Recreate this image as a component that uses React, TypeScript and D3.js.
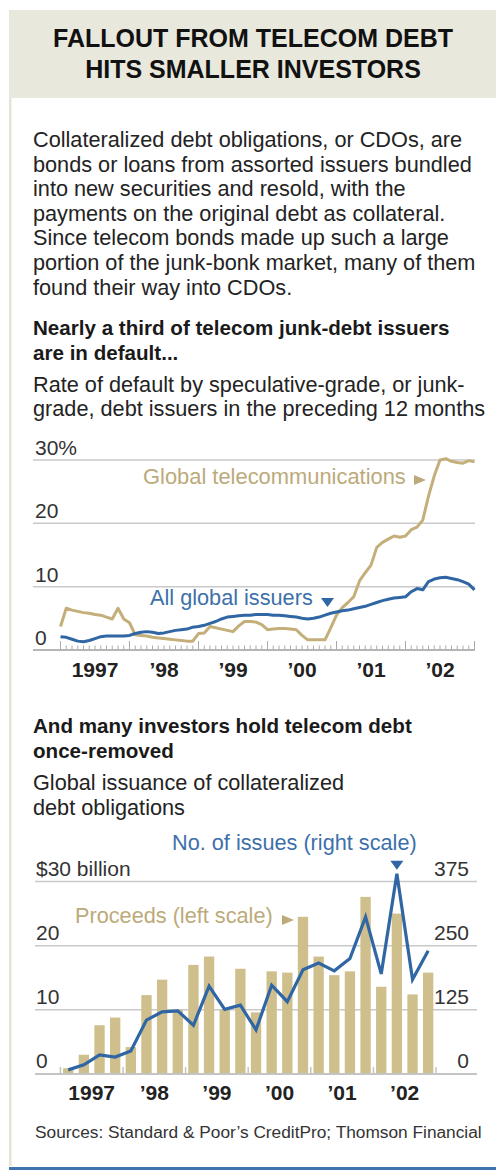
import React from "react";
import * as d3 from "d3";

const TITLE = ["FALLOUT FROM TELECOM DEBT", "HITS SMALLER INVESTORS"];
const INTRO = [
  "Collateralized debt obligations, or CDOs, are",
  "bonds or loans from assorted issuers bundled",
  "into new securities and resold, with the",
  "payments on the original debt as collateral.",
  "Since telecom bonds made up such a large",
  "portion of the junk-bonk market, many of them",
  "found their way into CDOs.",
];
const HEAD1 = ["Nearly a third of telecom junk-debt issuers", "are in default..."];
const SUB1 = [
  "Rate of default by speculative-grade, or junk-",
  "grade, debt issuers in the preceding 12 months",
];
const HEAD2 = ["And many investors hold telecom debt", "once-removed"];
const SUB2 = ["Global issuance of collateralized", "debt obligations"];
const SOURCE = "Sources: Standard & Poor\u2019s CreditPro; Thomson Financial";

const YEAR_LABELS = ["1997", "\u201998", "\u201999", "\u201900", "\u201901", "\u201902"];
const RATE_TICKS = [0, 10, 20, 30];

// monthly, Jan 1997 .. Jan 2003 (percent)
const telecomRate = [
  3.7, 6.6, 6.3, 6.1, 5.9, 5.8, 5.6, 5.5, 5.2, 4.9, 6.6, 4.9,
  4.3, 2.4, 2.3, 2.2, 2.0, 1.9, 1.8, 1.7, 1.6, 1.5, 1.4, 1.4,
  2.6, 2.7, 3.7, 3.5, 3.3, 3.1, 2.9, 3.8, 4.5, 4.5, 4.4, 4.0,
  3.2, 3.3, 3.4, 3.4, 3.3, 3.2, 2.3, 1.6, 1.6, 1.6, 1.6, 3.5,
  5.5, 6.7, 7.5, 8.4, 10.9, 12.2, 13.4, 16.2, 17.0, 17.5, 18.0, 17.8,
  18.0, 19.0, 19.4, 20.5, 24.3, 27.5, 30.0, 30.2, 29.8, 29.6, 29.5, 29.9,
  29.7,
];
const allIssuersRate = [
  2.1, 2.0, 1.7, 1.4, 1.3, 1.5, 1.8, 2.1, 2.2, 2.2, 2.2, 2.2,
  2.3, 2.6, 2.8, 2.9, 2.8, 2.6, 2.7, 2.9, 3.1, 3.2, 3.3, 3.6,
  3.7, 3.9, 4.2, 4.5, 4.9, 5.2, 5.3, 5.4, 5.5, 5.5, 5.6, 5.6,
  5.6, 5.5, 5.5, 5.4, 5.3, 5.2, 5.0, 4.9, 5.0, 5.2, 5.5, 5.8,
  6.0, 6.2, 6.3, 6.5, 6.7, 6.9, 7.2, 7.5, 7.8, 8.0, 8.2, 8.3,
  8.4, 9.2, 9.7, 9.5, 10.8, 11.2, 11.4, 11.5, 11.3, 11.1, 10.8, 10.4,
  9.5,
];

const QUARTERS = [
  "97Q1", "97Q2", "97Q3", "97Q4", "98Q1", "98Q2", "98Q3", "98Q4",
  "99Q1", "99Q2", "99Q3", "99Q4", "00Q1", "00Q2", "00Q3", "00Q4",
  "01Q1", "01Q2", "01Q3", "01Q4", "02Q1", "02Q2", "02Q3", "02Q4",
];
// $ billions (left scale)
const proceeds = [
  0.9, 3.0, 7.6, 8.8, 4.2, 12.3, 14.7, 10.0,
  17.0, 18.3, 10.1, 16.4, 9.6, 16.0, 15.8, 24.5,
  18.3, 15.4, 16.0, 27.6, 13.6, 25.0, 12.4, 15.8,
];
// number of issues (right scale)
const issues = [
  8, 18, 37, 33, 45, 105, 121, 123,
  95, 171, 126, 134, 86, 173, 141, 203,
  216, 201, 225, 306, 195, 390, 184, 240,
];
const LEFT_TICKS = [0, 10, 20, 30];
const RIGHT_TICKS = [0, 125, 250, 375];

const FONT = "'Liberation Sans', Arial, Helvetica, sans-serif";
const GOLD_LINE = "#c4af7a";
const GOLD_TEXT = "#bcaa7a";
const BAR = "#cfbf8d";
const BLUE = "#2f66a3";
const BLUE_TEXT = "#3d70aa";
const GRID = "#c9c9c9";
const TXT = "#232323";

export default function App() {
  const W = 496;
  const H = 1171;

  // ---- top chart scales
  const xM = d3.scaleLinear().domain([0, 72]).range([60.5, 474.5]);
  const yR = d3.scaleLinear().domain([0, 30]).range([650, 460]);
  const line1 = d3
    .line<number>()
    .x((_, i) => xM(i))
    .y((d) => yR(d))
    .curve(d3.curveLinear);

  // ---- bottom chart scales
  const xQ = d3.scaleBand<string>().domain(QUARTERS).range([60.4, 436]).paddingInner(0.34).paddingOuter(0.17);
  const yL = d3.scaleLinear().domain([0, 30]).range([1074, 881.5]);
  const yRt = d3.scaleLinear().domain([0, 375]).range([1074, 881.5]);
  const line2 = d3
    .line<number>()
    .x((_, i) => (xQ(QUARTERS[i]) as number) + xQ.bandwidth() / 2)
    .y((d) => yRt(d));

  const gridX0 = 33;
  const gridX1 = 475;
  const monthTicks = d3.range(0, 73);

  const peakIdx = issues.indexOf(d3.max(issues) as number);
  const peakX = (xQ(QUARTERS[peakIdx]) as number) + xQ.bandwidth() / 2;
  const peakY = yRt(issues[peakIdx]);

  return (
    <svg
      width={W}
      height={H}
      viewBox={`0 0 ${W} ${H}`}
      style={{ position: "absolute", left: 0, top: 0, background: "#fff" }}
      fontFamily={FONT}
    >
      {/* frame */}
      <rect x={9} y={10} width={W - 9} height={88} fill="#e9e8dc" />
      <rect x={9} y={98} width={2.5} height={1068} fill="#e6e4d5" />
      <rect x={9} y={1167} width={W - 9} height={3} fill="#3f73ad" />

      {/* title */}
      {TITLE.map((t, i) => (
        <text key={i} x={253} y={47 + i * 31} textAnchor="middle" fontSize={25} fontWeight="bold" fill="#111">
          {t}
        </text>
      ))}

      {/* intro */}
      {INTRO.map((t, i) => (
        <text key={i} x={33} y={147 + i * 24.6} fontSize={21.7} fill={TXT}>
          {t}
        </text>
      ))}

      {HEAD1.map((t, i) => (
        <text key={i} x={33} y={335 + i * 25} fontSize={20.6} fontWeight="bold" fill="#1a1a1a">
          {t}
        </text>
      ))}
      {SUB1.map((t, i) => (
        <text key={i} x={33} y={392 + i * 24} fontSize={21.7} fill={TXT}>
          {t}
        </text>
      ))}

      {/* ---------- top chart ---------- */}
      {RATE_TICKS.map((v) => (
        <g key={v}>
          {v > 0 && <line x1={gridX0} x2={gridX1} y1={yR(v)} y2={yR(v)} stroke={GRID} strokeWidth={1.5} />}
          <text x={35} y={yR(v) - 5} fontSize={21} fill="#333">
            {v === 30 ? "30%" : v}
          </text>
        </g>
      ))}
      {monthTicks.map((m) => (
        <line
          key={m}
          x1={xM(m)}
          x2={xM(m)}
          y1={yR(0)}
          y2={yR(0) - (m % 12 === 0 ? 9 : 4.5)}
          stroke="#aaa"
          strokeWidth={1}
        />
      ))}
      <line x1={gridX0} x2={gridX1} y1={yR(0)} y2={yR(0)} stroke="#b5b5b5" strokeWidth={2} />
      {YEAR_LABELS.map((t, i) => (
        <text key={t} x={xM(i * 12 + 6)} y={677} textAnchor="middle" fontSize={21} fontWeight="bold" fill="#222">
          {t}
        </text>
      ))}
      <path d={line1(telecomRate) || ""} fill="none" stroke={GOLD_LINE} strokeWidth={3} strokeLinejoin="round" />
      <path d={line1(allIssuersRate) || ""} fill="none" stroke={BLUE} strokeWidth={3} strokeLinejoin="round" />

      <text x={143} y={484} fontSize={21.9} fill={GOLD_TEXT}>
        Global telecommunications
      </text>
      <path d="M414,475 L426,480 L414,485 Z" fill={GOLD_TEXT} />
      <text x={150} y={605} fontSize={21.7} fill={BLUE_TEXT}>
        All global issuers
      </text>
      <path d="M321,598 L334,598 L327.5,607 Z" fill={BLUE} />

      {/* ---------- bottom chart ---------- */}
      {HEAD2.map((t, i) => (
        <text key={i} x={33} y={733 + i * 25} fontSize={20.6} fontWeight="bold" fill="#1a1a1a">
          {t}
        </text>
      ))}
      {SUB2.map((t, i) => (
        <text key={i} x={33} y={790 + i * 25} fontSize={21.7} fill={TXT}>
          {t}
        </text>
      ))}
      <text x={172} y={850} fontSize={21.7} fill={BLUE_TEXT}>
        No. of issues (right scale)
      </text>

      {LEFT_TICKS.map((v) => (
        <g key={v}>
          {v > 0 && <line x1={35} x2={477} y1={yL(v)} y2={yL(v)} stroke={GRID} strokeWidth={1.5} />}
          <text x={36} y={yL(v) - 6} fontSize={21} fill="#333">
            {v === 30 ? "$30 billion" : v}
          </text>
        </g>
      ))}
      {RIGHT_TICKS.map((v) => (
        <text key={v} x={469} y={yRt(v) - 6} textAnchor="end" fontSize={21} fill="#333">
          {v}
        </text>
      ))}

      {proceeds.map((v, i) => (
        <rect
          key={QUARTERS[i]}
          x={xQ(QUARTERS[i])}
          y={yL(v)}
          width={xQ.bandwidth()}
          height={yL(0) - yL(v)}
          fill={BAR}
        />
      ))}
      <line x1={35} x2={477} y1={yL(0)} y2={yL(0)} stroke="#c4c4c4" strokeWidth={2} />
      {d3.range(0, 7).map((k) => {
        const x = 60.4 + k * 4 * xQ.step();
        return <line key={k} x1={x} x2={x} y1={yL(0)} y2={yL(0) - 7} stroke="#c4c4c4" strokeWidth={1.5} />;
      })}
      {YEAR_LABELS.map((t, i) => (
        <text
          key={t}
          x={60.4 + (i * 4 + 2) * xQ.step()}
          y={1100}
          textAnchor="middle"
          fontSize={21}
          fontWeight="bold"
          fill="#222"
        >
          {t}
        </text>
      ))}
      <path d={line2(issues) || ""} fill="none" stroke={BLUE} strokeWidth={3.2} strokeLinejoin="miter" />
      <path d={`M${peakX - 6.5},${peakY - 13} L${peakX + 6.5},${peakY - 13} L${peakX},${peakY - 4} Z`} fill={BLUE} />

      <text x={75} y={923} fontSize={21.7} fill={GOLD_TEXT}>
        Proceeds (left scale)
      </text>
      <path d="M282,915 L294,920 L282,925 Z" fill={GOLD_TEXT} />

      <text x={35} y={1138} fontSize={17.3} fill="#333">
        {SOURCE}
      </text>
    </svg>
  );
}
